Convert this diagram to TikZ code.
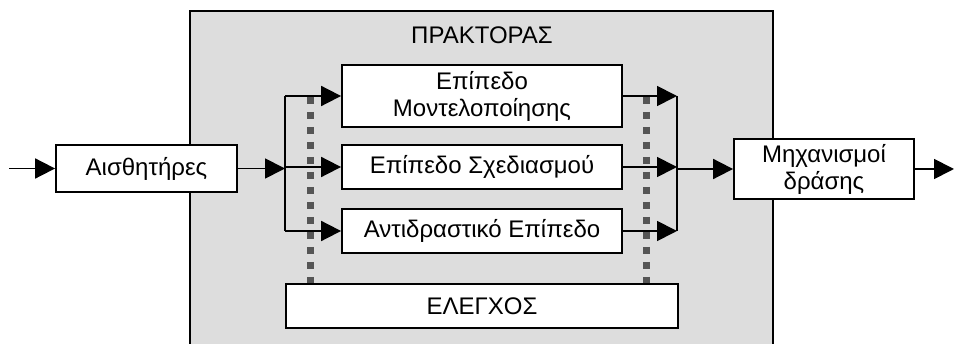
\documentclass[tikz,border=0pt]{standalone}
\usepackage{fontspec}
\setmainfont{Liberation Sans}
\usetikzlibrary{arrows.meta}
\definecolor{agentgray}{HTML}{DDDDDD}
\definecolor{ctrlgray}{HTML}{555555}
\tikzset{
  txt/.style={font=\fontsize{24}{27}\selectfont},
  box/.style={txt, draw=black, line width=1.8pt, fill=white, inner sep=0pt, align=center},
  conn/.style={line width=1.8pt, draw=black},
  arr/.style={conn, -{Triangle[length=20pt,width=20pt]}},
  ctrl/.style={draw=ctrlgray, line width=7pt, dash pattern=on 7pt off 8pt},
}
\begin{document}
\begin{tikzpicture}[x=1pt,y=-1pt]
\useasboundingbox (0,0) rectangle (954,344);
% agent frame
\draw[line width=1.8pt, fill=agentgray] (190,11) rectangle (773,360);
\node[txt] (agent) at (482,35) {ΠΡΑΚΤΟΡΑΣ};
% nodes
\node[box, minimum width=181pt, minimum height=47pt] (sens) at (146.5,168.5) {Αισθητήρες};
\node[box, minimum width=280pt, minimum height=62pt] (model) at (482,96) {Επίπεδο\\Μοντελοποίησης};
\node[box, minimum width=280pt, minimum height=44pt] (plan) at (482,167) {Επίπεδο Σχεδιασμού};
\node[box, minimum width=280pt, minimum height=44pt] (react) at (482,231) {Αντιδραστικό Επίπεδο};
\node[box, minimum width=392pt, minimum height=44pt] (ctrlbox) at (482,306) {ΕΛΕΓΧΟΣ};
\node[box, minimum width=180pt, minimum height=60pt] (act) at (824,169) {Μηχανισμοί\\δράσης};
% junctions
\coordinate (in) at (9,168.5);
\coordinate (out) at (954,169);
\coordinate (jl) at (285,168.5);
\coordinate (jlt) at (285,96);
\coordinate (jlb) at (285,231);
\coordinate (jr) at (677,169);
\coordinate (jrt) at (677,96);
\coordinate (jrb) at (677,231);
\coordinate (dlt) at (310,97);
\coordinate (drt) at (646,97);
% connectors
\draw[arr] (in) -- (sens.west);
\draw[arr] (sens.east) -- (jl);
\draw[conn] (jlt) -- (jlb);
\draw[arr] (jlt) -- (model.west);
\draw[arr] (jlt |- plan.west) -- (plan.west);
\draw[arr] (jlb) -- (react.west);
\draw[arr] (model.east) -- (jrt);
\draw[arr] (plan.east) -- (jrt |- plan.east);
\draw[arr] (react.east) -- (jrb);
\draw[conn] (jrt) -- (jrb);
\draw[arr] (jr) -- (act.west);
\draw[arr] (act.east) -- (out);
% control lines
\draw[ctrl] (dlt) -- (dlt |- ctrlbox.north);
\draw[ctrl] (drt) -- (drt |- ctrlbox.north);
\end{tikzpicture}
\end{document}
